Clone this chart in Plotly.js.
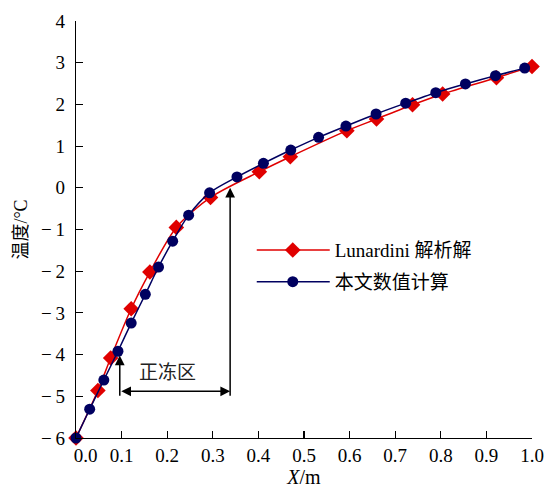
<!DOCTYPE html>
<html>
<head>
<meta charset="utf-8">
<script src="https://cdn.plot.ly/plotly-3.0.1.min.js"></script>
<style>html,body{margin:0;padding:0;background:#fff}#chart{width:545px;height:488px}</style>
</head>
<body>
<div id="chart"></div>
<script>
// Lunardini analytical solution
const lunX = [0, 0.048, 0.076, 0.121, 0.162, 0.220, 0.295, 0.402, 0.470, 0.594, 0.659, 0.738, 0.804, 0.922, 1.0];
const lunY = [-6, -4.86, -4.08, -2.90, -2.02, -0.95, -0.23, 0.385, 0.745, 1.37, 1.65, 1.99, 2.25, 2.64, 2.91];
// Numerical calculation of this paper
const numX = [0, 0.030, 0.061, 0.092, 0.121, 0.152, 0.181, 0.212, 0.247, 0.293, 0.353, 0.411, 0.471, 0.532, 0.592, 0.658, 0.723, 0.789, 0.854, 0.920, 0.984];
const numY = [-6, -5.31, -4.61, -3.92, -3.245, -2.555, -1.90, -1.28, -0.656, -0.12, 0.26, 0.586, 0.906, 1.21, 1.48, 1.77, 2.03, 2.28, 2.49, 2.69, 2.87];

const seriesNames = ['Lunardini 解析解', '本文数值计算'];
const xTickVals = [0, 0.1, 0.2, 0.3, 0.4, 0.5, 0.6, 0.7, 0.8, 0.9, 1.0];
const xTickText = ['\u2007\u20070.0', '0.1', '0.2', '0.3', '0.4', '0.5', '0.6', '0.7', '0.8', '0.9', '1.0'];
const yTickVals = [-6, -5, -4, -3, -2, -1, 0, 1, 2, 3, 4];
const yTickText = ['\u2212\u20096', '\u2212\u20095', '\u2212\u20094', '\u2212\u20093', '\u2212\u20092', '\u2212\u20091', '0', '1', '2', '3', '4'];

// frozen-zone annotation (data coordinates)
const zoneLeft = 0.096, zoneRight = 0.338;
const arrowBase = -5.02, leftTip = -4.02, rightTip = 0.0, spanY = -4.88;
const zoneLabel = '正冻区', zoneLabelX = 0.2, zoneLabelY = -4.43;

const FONT = 'Liberation Serif, "Times New Roman", "Noto Sans CJK SC", serif';
const RED = '#e00000', BLUE = '#000060';

const traces = [
  {x: lunX, y: lunY, name: seriesNames[0], mode: 'lines+markers', legendgroup: 'a', cliponaxis: false,
   line: {color: RED, width: 1.5, shape: 'spline', smoothing: 0.8},
   marker: {symbol: 'diamond', size: 12, color: RED}},
  {x: numX, y: numY, name: seriesNames[1], mode: 'lines+markers', legendgroup: 'b', cliponaxis: false,
   line: {color: BLUE, width: 1.5, shape: 'spline', smoothing: 0.8},
   marker: {symbol: 'circle', size: 11, color: BLUE}}
];

const arrowCommon = {xref: 'x', yref: 'y', axref: 'x', ayref: 'y', text: '', showarrow: true,
  arrowhead: 2, arrowsize: 1.3, arrowwidth: 1.5, arrowcolor: '#000'};

const layout = {
  width: 545, height: 488,
  margin: {l: 76, r: 13, t: 21, b: 50},
  paper_bgcolor: '#fff', plot_bgcolor: '#fff',
  font: {family: FONT, size: 19, color: '#000'},
  showlegend: true,
  legend: {x: 0.392, y: 0.496, xanchor: 'left', yanchor: 'top', bgcolor: 'rgba(0,0,0,0)',
    font: {family: FONT, size: 19, color: '#000'}, traceorder: 'grouped', tracegroupgap: 4, itemwidth: 70},
  xaxis: {range: [0, 1.0], tickmode: 'array', tickvals: xTickVals, ticktext: xTickText,
    ticks: 'inside', ticklen: 7, tickwidth: 1.2, tickcolor: '#000', showline: true, linecolor: '#000', linewidth: 1.2,
    showgrid: false, zeroline: false, mirror: false, tickfont: {size: 19},
    title: {text: '<i>X</i>/m', font: {family: FONT, size: 20}, standoff: 4}},
  yaxis: {range: [-6, 4], tickmode: 'array', tickvals: yTickVals, ticktext: yTickText,
    ticks: 'inside', ticklen: 7, tickwidth: 1.2, tickcolor: '#000', showline: true, linecolor: '#000', linewidth: 1.2,
    showgrid: false, zeroline: false, mirror: false, tickfont: {size: 19}, ticklabelstandoff: 6,
    title: {text: '温度/°C', font: {family: FONT, size: 18}, standoff: 8}},
  annotations: [
    Object.assign({}, arrowCommon, {x: zoneLeft, y: leftTip, ax: zoneLeft, ay: arrowBase}),
    Object.assign({}, arrowCommon, {x: zoneRight, y: rightTip, ax: zoneRight, ay: arrowBase}),
    Object.assign({}, arrowCommon, {x: zoneRight, y: spanY, ax: zoneLeft, ay: spanY, arrowside: 'end+start'}),
    {xref: 'x', yref: 'y', x: zoneLabelX, y: zoneLabelY, text: zoneLabel, showarrow: false,
     font: {family: FONT, size: 19, color: '#222'}}
  ]
};

Plotly.newPlot('chart', traces, layout, {displayModeBar: false, staticPlot: true}).then(function (gd) {
  // lengthen legend sample lines to match the reference style
  gd.querySelectorAll('.legend .traces').forEach(function (tr) {
    var txt = tr.querySelector('text.legendtext');
    if (!txt) return;
    var tx = parseFloat(txt.getAttribute('x')) || 40;
    tr.querySelectorAll('.legendlines path').forEach(function (p) {
      p.setAttribute('d', 'M' + (tx - 78) + ',0h73');
    });
    tr.querySelectorAll('.legendsymbols path.scatterpts').forEach(function (p) {
      p.setAttribute('transform', 'translate(' + (tx - 42) + ',0)');
    });
  });
});
</script>
</body>
</html>
